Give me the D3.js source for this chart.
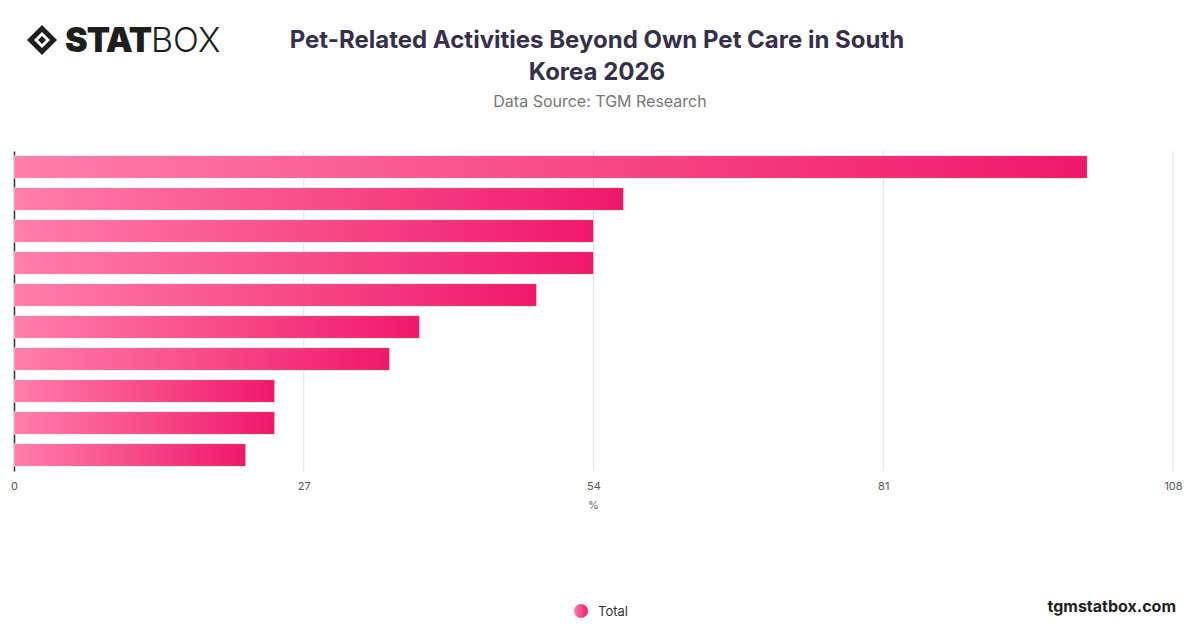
<!DOCTYPE html>
<html><head><meta charset="utf-8">
<script src="https://cdn.jsdelivr.net/npm/d3@7"></script>
<style>body{margin:0;background:#fff;font-family:Inter,"Open Sans",sans-serif}</style>
</head><body>
<svg id="chart" width="1200" height="628"></svg>
<script>
const categories=["A1","A2","A3","A4","A5","A6","A7","A8","A9","A10"];
const values=[100,56.8,54,54,48.7,37.8,35,24.3,24.3,21.6];
const ticks=[0,27,54,81,108];

const svg=d3.select("#chart");
const margin={top:151,right:27,bottom:157,left:14};
const width=1200-margin.left-margin.right;
const height=628-margin.top-margin.bottom;

const defs=svg.append("defs");
const grad=defs.append("linearGradient").attr("id","bg").attr("x1","0").attr("x2","1");
grad.append("stop").attr("offset","0").attr("stop-color","#ff7eaa");
grad.append("stop").attr("offset","1").attr("stop-color","#f01868");

// logo
const logo=svg.append("g").attr("transform","translate(27,40)");
logo.append("path").attr("d","M0,0 L15,-15 L30,0 L15,15 Z").attr("fill","#1e1e1e");
logo.append("path").attr("d","M7,0 L15,-8 L23,0 L15,8 Z").attr("fill","#fff");
logo.append("path").attr("d","M11,0 L15,-4 L19,0 L15,4 Z").attr("fill","#1e1e1e");
logo.append("text").attr("x",38).attr("y",12).attr("font-size",34).attr("font-weight",900)
  .attr("fill","#1e1e1e").attr("font-family","Inter").attr("letter-spacing",-1).text("STAT");
logo.append("text").attr("x",124).attr("y",12).attr("font-size",34).attr("font-weight",300)
  .attr("fill","#1e1e1e").attr("font-family","Inter").text("BOX");

svg.append("text").attr("x",597).attr("y",48).attr("text-anchor","middle").attr("font-size",24)
  .attr("font-weight",700).attr("fill","#35304a").text("Pet-Related Activities Beyond Own Pet Care in South");
svg.append("text").attr("x",597).attr("y",80).attr("text-anchor","middle").attr("font-size",24)
  .attr("font-weight",700).attr("fill","#35304a").text("Korea 2026");
svg.append("text").attr("x",600).attr("y",107).attr("text-anchor","middle").attr("font-size",16)
  .attr("fill","#777").text("Data Source: TGM Research");

const g=svg.append("g").attr("transform",`translate(${margin.left},${margin.top})`);
const x=d3.scaleLinear().domain([0,108]).range([0,width]);
const y=d3.scaleBand().domain(categories).range([0,height]).paddingInner(0.3).paddingOuter(0.15);

g.append("g").selectAll("line").data(ticks.slice(1)).enter().append("line")
  .attr("x1",d=>x(d)).attr("x2",d=>x(d)).attr("y1",0).attr("y2",height).attr("stroke","#e0e0e0");

const xa=g.append("g").attr("transform",`translate(0,${height})`)
  .call(d3.axisBottom(x).tickValues(ticks).tickSize(0).tickPadding(11));
xa.select(".domain").remove();
xa.selectAll("text").attr("font-size",11).attr("fill","#555").attr("font-family","Inter");
g.append("text").attr("x",x(54)).attr("y",height+38).attr("text-anchor","middle")
  .attr("font-size",11).attr("fill","#666").text("%");

const ya=g.append("g").call(d3.axisLeft(y).tickSize(0).tickFormat(""));
ya.select(".domain").attr("stroke","#333").attr("stroke-width",1.5);

g.selectAll(".bar").data(values).enter().append("rect").attr("class","bar")
  .attr("x",0).attr("y",(d,i)=>y(categories[i])).attr("width",d=>x(d)).attr("height",y.bandwidth())
  .attr("fill","url(#bg)").attr("stroke","#fff").attr("stroke-width",0.5);

svg.append("circle").attr("cx",581).attr("cy",611).attr("r",7).attr("fill","url(#bg)");
svg.append("text").attr("x",598).attr("y",616).attr("font-size",13).attr("fill","#333").text("Total");
svg.append("text").attr("x",1176).attr("y",612).attr("text-anchor","end").attr("font-size",16)
  .attr("font-weight",700).attr("fill","#222").text("tgmstatbox.com");
</script>
</body></html>
